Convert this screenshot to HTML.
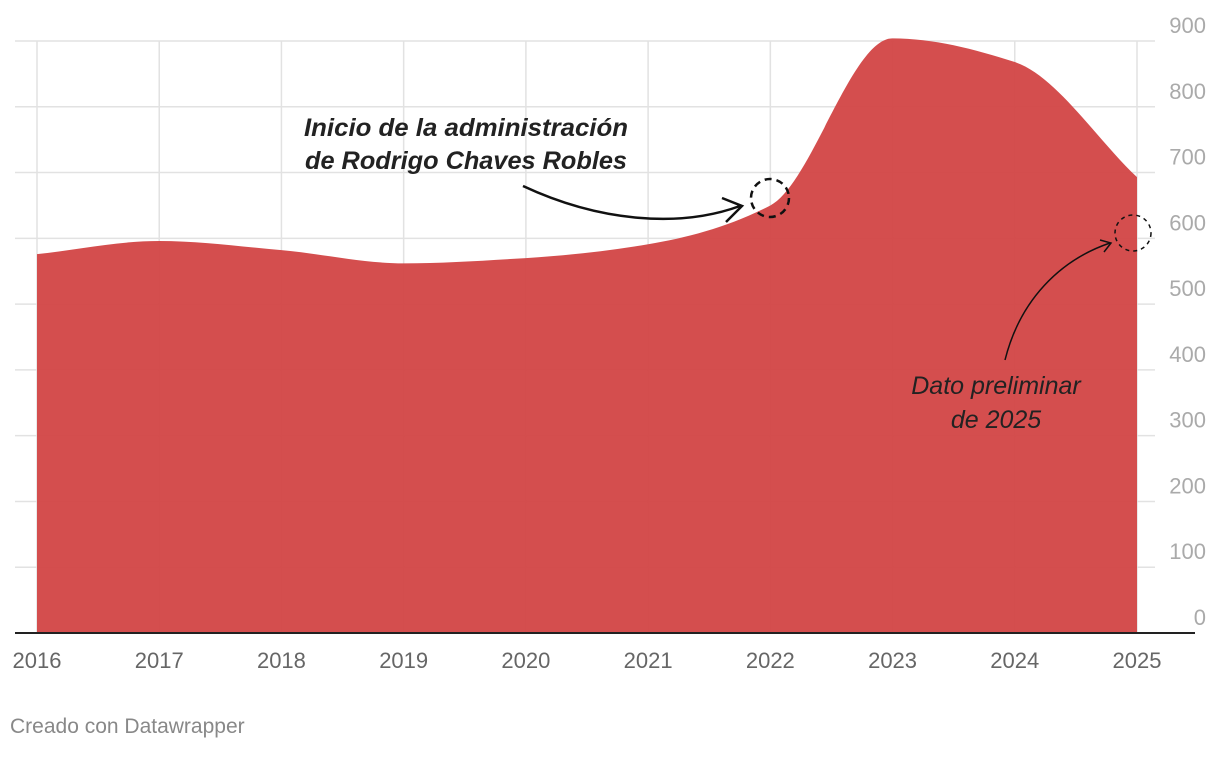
<!DOCTYPE html>
<html><head><meta charset="utf-8"><style>
body{margin:0;background:#fff;width:1220px;height:752px;overflow:hidden;font-family:"Liberation Sans",sans-serif}
</style></head><body>
<svg id="chart" width="1220" height="752" xmlns="http://www.w3.org/2000/svg">
<g id="grid"></g>
<path id="area" fill="#d24545" fill-opacity="0.95"></path>
<g id="axes"></g>
<g>
<text x="466" y="136" text-anchor="middle" font-size="25" font-weight="bold" font-style="italic" fill="#222" textLength="324" lengthAdjust="spacingAndGlyphs">Inicio de la administración</text>
<text x="466" y="169" text-anchor="middle" font-size="25" font-weight="bold" font-style="italic" fill="#222" textLength="322" lengthAdjust="spacingAndGlyphs">de Rodrigo Chaves Robles</text>
<path d="M523,186 C600,222 680,228 740,206" fill="none" stroke="#111" stroke-width="2.5"/>
<path d="M722,198 L742,206 L726,222" fill="none" stroke="#111" stroke-width="2.5"/>
<circle cx="770" cy="198" r="19" fill="none" stroke="#111" stroke-width="2.5" stroke-dasharray="7,5"/>
</g>
<g>
<text x="996" y="394" text-anchor="middle" font-size="25" font-style="italic" fill="#222">Dato preliminar</text>
<text x="996" y="428" text-anchor="middle" font-size="25" font-style="italic" fill="#222">de 2025</text>
<path d="M1005,360 C1020,300 1060,260 1110,243" fill="none" stroke="#111" stroke-width="1.5"/>
<path d="M1100,240 L1111,243 L1104,252" fill="none" stroke="#111" stroke-width="1.5"/>
<circle cx="1133" cy="233" r="18" fill="none" stroke="#111" stroke-width="1.5" stroke-dasharray="4,4"/>
</g>
<text x="10" y="733" font-size="21" fill="#888">Creado con Datawrapper</text>
</svg>
<script>
const years=[2016,2017,2018,2019,2020,2021,2022,2023,2024,2025];
const values=[576,596,582,562,570,591,650,904,868,693];
const yTicks=[0,100,200,300,400,500,600,700,800,900];
const NS="http://www.w3.org/2000/svg";
const x=i=>37+i*(1137-37)/(years.length-1);
const y=v=>633-v*(633-41)/900;
function mk(tag,attrs,parent,text){const e=document.createElementNS(NS,tag);for(const k in attrs)e.setAttribute(k,attrs[k]);if(text!=null)e.textContent=text;parent.appendChild(e);return e;}
const grid=document.getElementById('grid'),axes=document.getElementById('axes');
yTicks.forEach(t=>{
 const l=mk('line',{x1:15,x2:1155,y1:y(t),y2:y(t),stroke:'#e2e2e2','stroke-width':1.5},grid);
 
 
 const tx=mk('text',{x:1206,y:y(t)-8,'text-anchor':'end','font-size':22,fill:'#aaa'},axes,t);
 
 
});
years.forEach((yr,i)=>{
 const l=mk('line',{x1:x(i),x2:x(i),y1:41,y2:633,stroke:'#e2e2e2','stroke-width':1.5},grid);
 
 
 const tx=mk('text',{x:x(i),y:668,'text-anchor':'middle','font-size':22,fill:'#666'},axes,yr);
 
 
});
const base=mk('line',{x1:15,x2:1195,y1:633,y2:633,stroke:'#222','stroke-width':2},axes);


const px=years.map((_,i)=>x(i)),py=values.map(y),n=px.length;
const d=[],m=[];for(let i=0;i<n-1;i++)d.push((py[i+1]-py[i])/(px[i+1]-px[i]));
m[0]=d[0];m[n-1]=d[n-2];
for(let i=1;i<n-1;i++){if(d[i-1]*d[i]<=0)m[i]=0;else{const h0=px[i]-px[i-1],h1=px[i+1]-px[i];m[i]=3*(h0+h1)/((2*h1+h0)/d[i-1]+(h1+2*h0)/d[i]);}}
let p=`M${px[0]},633 L${px[0]},${py[0]}`;
for(let i=0;i<n-1;i++){const h=(px[i+1]-px[i])/3;p+=` C${px[i]+h},${py[i]+m[i]*h} ${px[i+1]-h},${py[i+1]-m[i+1]*h} ${px[i+1]},${py[i+1]}`;}
p+=` L${px[n-1]},633 Z`;
document.getElementById('area').setAttribute('d',p);
</script>
</body></html>
